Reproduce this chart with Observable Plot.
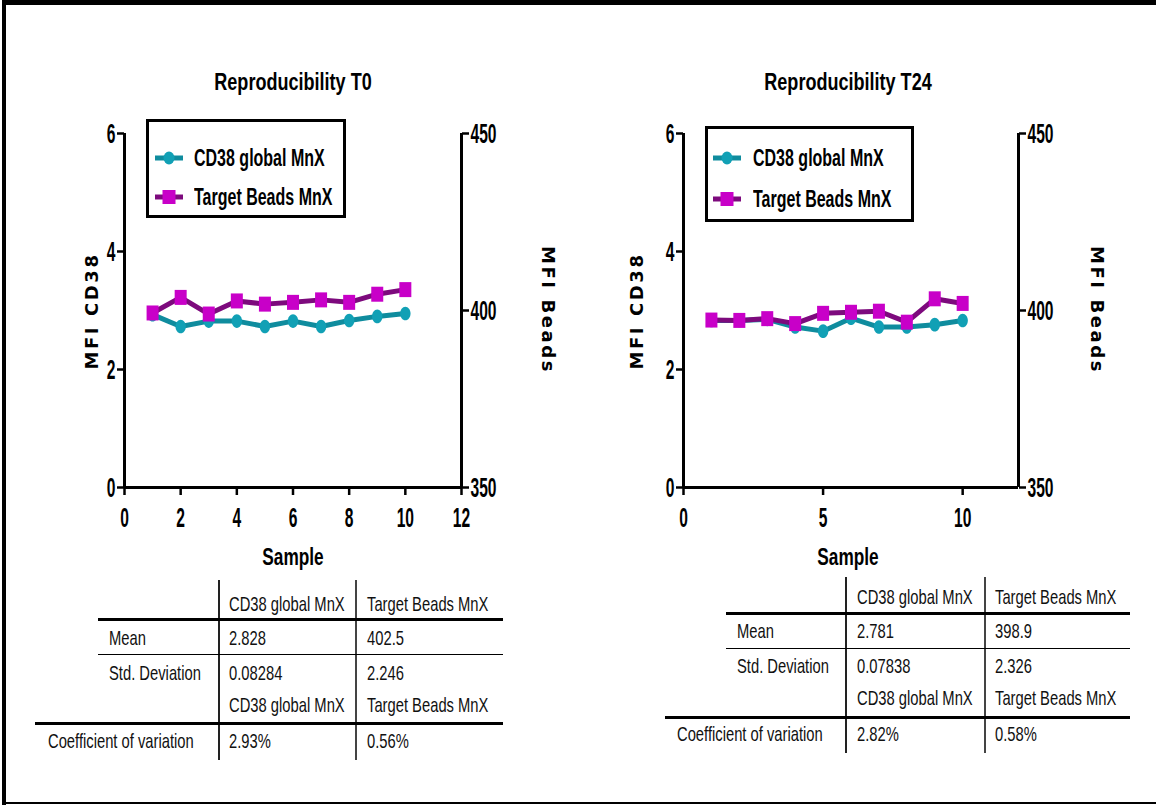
<!DOCTYPE html>
<html>
<head>
<meta charset="utf-8">
<script src="https://cdn.jsdelivr.net/npm/d3@7"></script>
<script src="https://cdn.jsdelivr.net/npm/@observablehq/plot@0.6"></script>
<style>
  html, body { margin: 0; padding: 0; background: #fff; }
  #page { position: relative; width: 1156px; height: 805px; overflow: hidden; background: #fff; }
  .abs { position: absolute; }
  .sans { font-family: 'Liberation Sans', Arial, sans-serif; }
  .title { font-weight: bold; font-size: 22px; white-space: nowrap; transform: translate(-50%, -50%) scale(0.82, 1.12); color: #000; }
  .xlabel { font-weight: bold; font-size: 21px; white-space: nowrap; transform: translate(-50%, -50%) scale(0.82, 1.12); color: #000; }
  .ylabel { font-family: 'DejaVu Sans', sans-serif; font-weight: bold; font-size: 18px; letter-spacing: 2.6px; white-space: nowrap; color: #000; }
  .tcell { font-size: 18px; white-space: nowrap; color: #111; transform: translateY(-50%) scale(0.82, 1.1); transform-origin: left center; }
  .legend { border: 3.5px solid #000; background: #fff; box-sizing: border-box; }
  .legrow { position: absolute; display: flex; align-items: center; }
  .legtext { font-weight: bold; font-size: 20px; white-space: nowrap; transform: scale(0.8, 1.15); transform-origin: left center; color: #000; }
</style>
</head>
<body>
<div id="page"></div>
<script>
// ---------------- data ----------------
const samples = [1, 2, 3, 4, 5, 6, 7, 8, 9, 10];
const seriesNames = ["CD38 global MnX", "Target Beads MnX"];

const t0CD38  = [2.93, 2.73, 2.82, 2.82, 2.73, 2.82, 2.73, 2.83, 2.90, 2.95];
const t0Beads = [399.3, 403.7, 399.0, 402.7, 401.8, 402.3, 403.0, 402.3, 404.6, 405.9];
const t24CD38  = [2.83, 2.83, 2.85, 2.72, 2.65, 2.87, 2.72, 2.72, 2.76, 2.83];
const t24Beads = [397.3, 397.2, 397.7, 396.3, 399.2, 399.5, 399.8, 396.7, 403.3, 402.0];

const leftTicks = [0, 2, 4, 6];
const rightTicks = [350, 400, 450];
const t0XTicks = [0, 2, 4, 6, 8, 10, 12];
const t24XTicks = [0, 5, 10];

const tableRowLabels = ["Mean", "Std. Deviation", "Coefficient of variation"];
const t0Mean = ["2.828", "402.5"];
const t0SD   = ["0.08284", "2.246"];
const t0CV   = ["2.93%", "0.56%"];
const t24Mean = ["2.781", "398.9"];
const t24SD   = ["0.07838", "2.326"];
const t24CV   = ["2.82%", "0.58%"];

// ---------------- styles ----------------
const TEAL_LINE = "#0f8c9e", TEAL_DOT = "#11a0b5";
const PURPLE_LINE = "#7d0a7d", MAGENTA = "#c800c8";
const SANS = "'Liberation Sans', Arial, sans-serif";

const page = document.getElementById("page");
function div(cls, css, text) {
  const d = document.createElement("div");
  d.className = "abs " + (cls || "");
  Object.assign(d.style, css || {});
  if (text != null) d.textContent = text;
  page.appendChild(d);
  return d;
}

// page border
div("", {left: "2px", top: "0px", width: "1154px", height: "5px", background: "#000"});
div("", {left: "2px", top: "0px", width: "4px", height: "805px", background: "#000"});
div("", {left: "2px", top: "802px", width: "1154px", height: "2px", background: "#000"});

// custom symbols
function ellipseSym(rx, ry) {
  return {draw(ctx) {
    const k = 0.5523;
    ctx.moveTo(rx, 0);
    ctx.bezierCurveTo(rx, ry * k, rx * k, ry, 0, ry);
    ctx.bezierCurveTo(-rx * k, ry, -rx, ry * k, -rx, 0);
    ctx.bezierCurveTo(-rx, -ry * k, -rx * k, -ry, 0, -ry);
    ctx.bezierCurveTo(rx * k, -ry, rx, -ry * k, rx, 0);
    ctx.closePath();
  }};
}
function rectSym(w, h) {
  return {draw(ctx) { ctx.rect(-w / 2, -h / 2, w, h); }};
}

function stretchLabels(svg, sx, sy) {
  svg.querySelectorAll('g[aria-label$="tick label"] text').forEach(t => {
    const tr = t.getAttribute("transform");
    if (tr && tr.includes("translate")) {
      t.setAttribute("transform", tr + ` scale(${sx},${sy})`);
    } else {
      const x = t.getAttribute("x"), y = t.getAttribute("y");
      if (x != null && y != null && !isNaN(+x) && !isNaN(+y)) {
        t.removeAttribute("x"); t.removeAttribute("y");
        t.setAttribute("transform", `translate(${x},${y}) scale(${sx},${sy})`);
      }
    }
  });
}

function drawChart(cfg) {
  const W = 470, H = 420;
  const common = {
    width: W, height: H,
    marginLeft: cfg.ml, marginRight: W - cfg.ml - cfg.plotW, marginTop: 13, marginBottom: 53,
    style: {background: "transparent", overflow: "visible", fontFamily: SANS, fontSize: "20px", fontWeight: "bold", color: "#000"}
  };
  const cd = samples.map((s, i) => ({s, v: cfg.cd38[i]}));
  const bd = samples.map((s, i) => ({s, v: cfg.beads[i]}));
  const fmt = d => String(d);

  const p1 = Plot.plot({
    ...common,
    x: {domain: [0, 12]},
    y: {domain: [0, 6]},
    marks: [
      Plot.axisX(cfg.xticks, {tickSize: 8, strokeWidth: 2.5, tickPadding: 11, tickFormat: fmt, label: null}),
      Plot.axisY(leftTicks, {anchor: "left", tickSize: 7, strokeWidth: 2.5, tickPadding: 2, tickFormat: fmt, label: null}),
      Plot.ruleY([0], {stroke: "#000", strokeWidth: 3}),
      Plot.ruleX([0], {stroke: "#000", strokeWidth: 3}),
      Plot.ruleX([12], {stroke: "#000", strokeWidth: 3}),
      Plot.line(cd, {x: "s", y: "v", stroke: TEAL_LINE, strokeWidth: 5}),
      Plot.dot(cd, {x: "s", y: "v", fill: TEAL_DOT, stroke: "none", symbol: ellipseSym(5.2, 6.8)})
    ]
  });
  stretchLabels(p1, 0.78, 1.42);
  Object.assign(p1.style, {position: "absolute", left: cfg.left + "px", top: "120px"});
  page.appendChild(p1);

  const p2 = Plot.plot({
    ...common,
    x: {domain: [0, 12], axis: null},
    y: {domain: [350, 450]},
    marks: [
      Plot.axisY(rightTicks, {anchor: "right", tickSize: 7, strokeWidth: 2.5, tickPadding: 2, tickFormat: fmt, label: null}),
      Plot.line(bd, {x: "s", y: "v", stroke: PURPLE_LINE, strokeWidth: 5}),
      Plot.dot(bd, {x: "s", y: "v", fill: MAGENTA, stroke: "none", symbol: rectSym(12, 15)})
    ]
  });
  stretchLabels(p2, 0.78, 1.42);
  Object.assign(p2.style, {position: "absolute", left: cfg.left + "px", top: "120px"});
  page.appendChild(p2);

  // title, axis labels
  div("sans title", {left: cfg.titleX + "px", top: "82px"}, cfg.title);
  div("sans xlabel", {left: cfg.titleX + "px", top: "557px"}, "Sample");
  div("ylabel", {left: cfg.yl1 + "px", top: "311px", transform: "translate(-50%, -50%) rotate(-90deg)"}, "MFI CD38");
  div("ylabel", {left: cfg.yl2 + "px", top: "310px", transform: "translate(-50%, -50%) rotate(90deg)"}, "MFI Beads");

  // legend
  const L = cfg.legend;
  div("legend", {left: L.x + "px", top: L.y + "px", width: L.w + "px", height: L.h + "px"});
  [[TEAL_LINE, TEAL_DOT, "circle"], [PURPLE_LINE, MAGENTA, "square"]].forEach((c, i) => {
    const row = div("legrow", {left: (L.x + L.gx) + "px", top: (L.rows[i] - 12) + "px", height: "24px"});
    const NS = "http://www.w3.org/2000/svg";
    const s = document.createElementNS(NS, "svg");
    s.setAttribute("width", "28"); s.setAttribute("height", "24");
    const ln = document.createElementNS(NS, "line");
    ln.setAttribute("x1", 0); ln.setAttribute("x2", 28); ln.setAttribute("y1", 12); ln.setAttribute("y2", 12);
    ln.setAttribute("stroke", c[0]); ln.setAttribute("stroke-width", 5);
    s.appendChild(ln);
    if (c[2] === "circle") {
      const e = document.createElementNS(NS, "ellipse");
      e.setAttribute("cx", 14); e.setAttribute("cy", 12); e.setAttribute("rx", 5.5); e.setAttribute("ry", 6.5);
      e.setAttribute("fill", c[1]); s.appendChild(e);
    } else {
      const r = document.createElementNS(NS, "rect");
      r.setAttribute("x", 7.5); r.setAttribute("y", 5); r.setAttribute("width", 13); r.setAttribute("height", 14);
      r.setAttribute("fill", c[1]); s.appendChild(r);
    }
    row.appendChild(s);
    const t = document.createElement("span");
    t.className = "sans legtext";
    t.style.marginLeft = L.gap + "px";
    t.textContent = seriesNames[i];
    row.appendChild(t);
  });
}

function drawTable(T) {
  const line = (x, y, w, h, col) => div("", {left: x + "px", top: y + "px", width: w + "px", height: h + "px", background: col || "#000"});
  // verticals
  line(T.v1, T.vTop, 1.5, T.vBot - T.vTop, "#222");
  line(T.v2, T.vTop, 1.5, T.vBot - T.vTop, "#444");
  // horizontals
  line(T.hx1, T.h1 - 1.5, T.hx2 - T.hx1, 3);
  line(T.hx1, T.h2 - 0.5, T.hx2 - T.hx1, 1.2);
  line(T.hx0, T.h3 - 1.5, T.hx2 - T.hx0, 3);
  // text
  const cell = (x, y, s) => div("sans tcell", {left: x + "px", top: y + "px"}, s);
  cell(T.c1, T.r[0], seriesNames[0]); cell(T.c2, T.r[0], seriesNames[1]);
  cell(T.lx, T.r[1], tableRowLabels[0]); cell(T.c1, T.r[1], T.mean[0]); cell(T.c2, T.r[1], T.mean[1]);
  cell(T.lx, T.r[2], tableRowLabels[1]); cell(T.c1, T.r[2], T.sd[0]); cell(T.c2, T.r[2], T.sd[1]);
  cell(T.c1, T.r[3], seriesNames[0]); cell(T.c2, T.r[3], seriesNames[1]);
  cell(T.cvx, T.r[4], tableRowLabels[2]); cell(T.c1, T.r[4], T.cv[0]); cell(T.c2, T.r[4], T.cv[1]);
}

drawChart({
  left: 60, ml: 64, plotW: 337, xticks: t0XTicks, cd38: t0CD38, beads: t0Beads,
  title: "Reproducibility T0", titleX: 293, yl1: 91, yl2: 548,
  legend: {x: 146, y: 119, w: 200, h: 99, gx: 9, gap: 11, rows: [158, 197]}
});
drawChart({
  left: 620, ml: 63, plotW: 335, xticks: t24XTicks, cd38: t24CD38, beads: t24Beads,
  title: "Reproducibility T24", titleX: 848, yl1: 636, yl2: 1097,
  legend: {x: 705, y: 126, w: 209, h: 96, gx: 8, gap: 12, rows: [158, 199]}
});

drawTable({
  v1: 218, v2: 355, vTop: 580, vBot: 760,
  hx0: 35, hx1: 98, hx2: 503, h1: 619, h2: 654, h3: 723,
  c1: 229, c2: 367, lx: 109, cvx: 48,
  r: [605, 639, 674, 706, 742],
  mean: t0Mean, sd: t0SD, cv: t0CV
});
drawTable({
  v1: 845, v2: 984, vTop: 577, vBot: 753,
  hx0: 665, hx1: 726, hx2: 1130, h1: 613, h2: 648, h3: 717,
  c1: 857, c2: 995, lx: 737, cvx: 677,
  r: [598, 632, 667, 699, 735],
  mean: t24Mean, sd: t24SD, cv: t24CV
});
</script>
</body>
</html>
